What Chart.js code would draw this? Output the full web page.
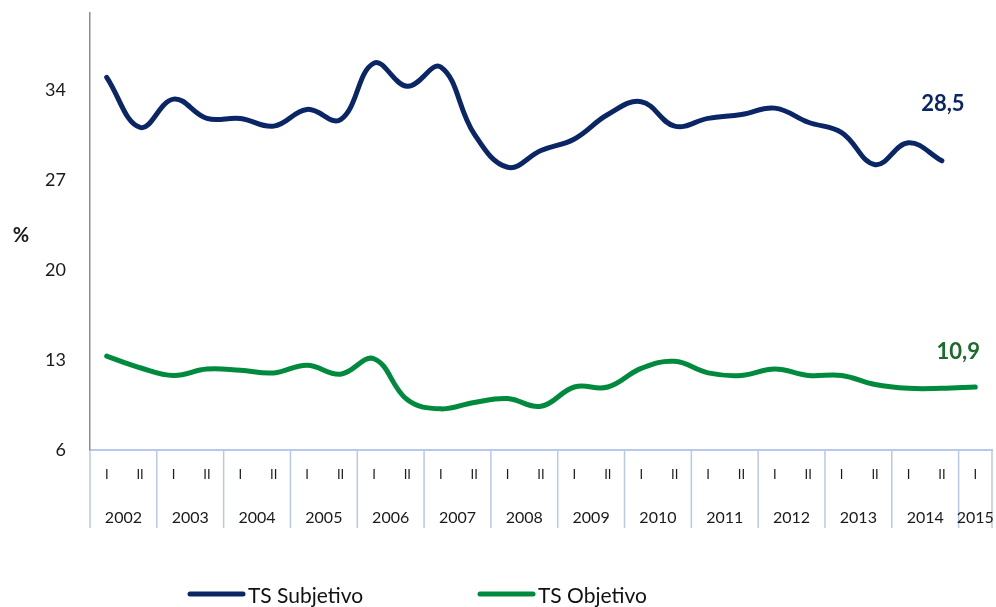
<!DOCTYPE html>
<html>
<head>
<meta charset="utf-8">
<script src="https://cdn.jsdelivr.net/npm/chart.js@4"></script>
<style>
  html, body { margin: 0; padding: 0; background: #fff; }
  #wrap { width: 996px; height: 607px; position: relative; }
</style>
</head>
<body>
<div id="wrap"><canvas id="c"></canvas></div>
<script>
const halves = ['I','II','I','II','I','II','I','II','I','II','I','II','I','II','I','II','I','II','I','II','I','II','I','II','I','II','I'];
const years = ['2002','2003','2004','2005','2006','2007','2008','2009','2010','2011','2012','2013','2014','2015'];
const tsSubjetivo = [35.0, 31.1, 33.3, 31.8, 31.8, 31.2, 32.5, 31.7, 36.1, 34.3, 35.8, 30.6, 28.0, 29.3, 30.2, 32.1, 33.1, 31.2, 31.8, 32.1, 32.6, 31.5, 30.7, 28.2, 29.9, 28.5];
const tsObjetivo = [13.3, 12.4, 11.8, 12.3, 12.2, 12.0, 12.6, 11.9, 13.1, 9.9, 9.2, 9.7, 10.0, 9.4, 10.9, 10.9, 12.35, 12.9, 12.0, 11.8, 12.3, 11.8, 11.8, 11.1, 10.8, 10.8, 10.9];
const yTicks = [6, 13, 20, 27, 34];
const seriesNames = ['TS Subjetivo', 'TS Objetivo'];
const endLabels = ['28,5', '10,9'];

const navy = '#0b2666';
const green = '#008a3e';
const darkGreen = '#1b6b2b';
const sepColor = '#b7c9ea';
const FONT = 'Lato, "Open Sans", sans-serif';

const overlay = {
  id: 'overlay',
  afterDraw(chart) {
    const ctx = chart.ctx;
    const x = chart.scales.x;
    const area = chart.chartArea;
    const n = halves.length;
    const w = x.getPixelForValue(1) - x.getPixelForValue(0);
    ctx.save();
    // year separators
    ctx.strokeStyle = sepColor;
    ctx.lineWidth = 1.5;
    const bounds = [];
    for (let i = 0; i <= n; i += 2) {
      bounds.push(i < n ? x.getPixelForValue(i) - w / 2 : x.getPixelForValue(n - 1) + w / 2);
    }
    if (n % 2 === 1) bounds.push(x.getPixelForValue(n - 1) + w / 2);
    bounds.forEach(bx => {
      ctx.beginPath();
      ctx.moveTo(bx, area.bottom);
      ctx.lineTo(bx, area.bottom + 78);
      ctx.stroke();
    });
    // year labels
    ctx.fillStyle = '#1a1a1a';
    ctx.font = '16px ' + FONT;
    ctx.textAlign = 'center';
    ctx.textBaseline = 'middle';
    years.forEach((yr, k) => {
      const i0 = 2 * k;
      const i1 = Math.min(2 * k + 1, n - 1);
      const cx = (x.getPixelForValue(i0) + x.getPixelForValue(i1)) / 2;
      ctx.fillText(yr, cx, area.bottom + 68);
    });
    // % label
    ctx.font = 'bold 20px ' + FONT;
    ctx.fillStyle = '#1a1a1a';
    ctx.fillText('%', 21, 236);
    // end labels
    ctx.font = 'bold 22px ' + FONT;
    const m0 = chart.getDatasetMeta(0).data;
    const p0 = m0[m0.length - 1];
    ctx.fillStyle = navy;
    ctx.fillText(endLabels[0], p0.x + 1, p0.y - 57);
    const m1 = chart.getDatasetMeta(1).data;
    const p1 = m1[m1.length - 1];
    ctx.fillStyle = darkGreen;
    ctx.fillText(endLabels[1], p1.x - 17, p1.y - 35);
    // legend
    ctx.lineCap = 'round';
    ctx.lineWidth = 5;
    const legY = 594;
    const items = [[188, navy], [478, green]];
    ctx.font = '21px ' + FONT;
    ctx.textAlign = 'left';
    items.forEach(([lx, col], i) => {
      ctx.strokeStyle = col;
      ctx.beginPath();
      ctx.moveTo(lx + 2, legY);
      ctx.lineTo(lx + 55, legY);
      ctx.stroke();
      ctx.fillStyle = '#111';
      ctx.fillText(seriesNames[i], lx + 60, legY + 2);
    });
    ctx.restore();
  }
};

new Chart(document.getElementById('c'), {
  type: 'line',
  data: {
    labels: halves,
    datasets: [
      { label: seriesNames[0], data: tsSubjetivo, borderColor: navy, borderWidth: 5, pointRadius: 0, tension: 0.4, fill: false, borderCapStyle: 'round' },
      { label: seriesNames[1], data: tsObjetivo, borderColor: green, borderWidth: 5, pointRadius: 0, tension: 0.4, fill: false, borderCapStyle: 'round' }
    ]
  },
  options: {
    responsive: true,
    maintainAspectRatio: false,
    animation: false,
    layout: { padding: { top: 13, right: 4, left: 0, bottom: 0 } },
    plugins: { legend: { display: false }, tooltip: { enabled: false } },
    scales: {
      x: {
        offset: true,
        grid: { display: false, drawTicks: false },
        border: { display: true, color: sepColor, width: 2 },
        ticks: { autoSkip: false, maxRotation: 0, color: '#1a1a1a', font: { family: FONT, size: 13 }, padding: 17 },
        afterFit(s) { s.height = 157; s.paddingLeft = 0; s.paddingRight = 0; }
      },
      y: {
        min: 6, max: 40,
        grid: { display: false, drawTicks: false },
        border: { display: true, color: '#8c8c8c', width: 1.5 },
        ticks: { color: '#1a1a1a', font: { family: FONT, size: 18 }, padding: 24 },
        afterBuildTicks(s) { s.ticks = yTicks.map(v => ({ value: v })); },
        afterFit(s) { s.width = 90; s.paddingTop = 0; s.paddingBottom = 0; }
      }
    }
  },
  plugins: [overlay]
});
</script>
</body>
</html>
